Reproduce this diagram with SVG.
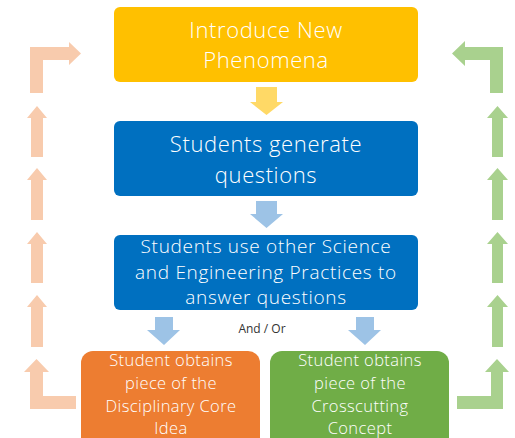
<svg xmlns="http://www.w3.org/2000/svg" width="515" height="438" viewBox="0 0 515 438">
<style>
.t{font-family:"Open Sans","DejaVu Sans",sans-serif;fill:#ffffff;text-anchor:middle;font-weight:300}
.big{font-size:22px;letter-spacing:0.6px}
.mid{font-size:19px;letter-spacing:0.7px}
.sm{font-size:16.5px;letter-spacing:0.4px}
.lab{font-family:"Open Sans","DejaVu Sans",sans-serif;font-size:12px;fill:#333333;text-anchor:middle}
.lo{fill:#F8CBAD}
.lg{fill:#A9D18E}
.ly{fill:#FFD966}
.lb{fill:#9DC3E6}
</style>
<rect width="515" height="438" fill="#ffffff"/>
<g id="connectors">
<polygon class="ly" points="256,87 277,87 277,102 283,102 266.5,115 250,102 256,102"/>
<polygon class="lb" points="256,201 277,201 277,214 283,214 266.5,228 250,214 256,214"/>
<polygon class="lb" points="155,317 173,317 173,330 180,330 164,345 147,330 155,330"/>
<polygon class="lb" points="356,317 374,317 374,330 381,330 365,345 348,330 356,330"/>
<g id="left-loop">
<polygon class="lo" points="30,93 30,47 69,47 69,42 81,53.5 69,65 69,60 43,60 43,93"/>
<polygon class="lo" points="37,106 47,118 43,118 43,157 31,157 31,118 27,118"/>
<polygon class="lo" points="37,168 47,180 43,180 43,220 31,220 31,180 27,180"/>
<polygon class="lo" points="37,232 47,244 43,244 43,283 31,283 31,244 27,244"/>
<polygon class="lo" points="37,295 47,307 43,307 43,347 31,347 31,307 27,307"/>
<polygon class="lo" points="36.5,359 49,372 43,372 43,396 76,396 76,409 30,409 30,372 24,372"/>
</g>
<g id="right-loop">
<polygon class="lg" points="503,93 503,47 465,47 465,41 452,53.5 465,66 465,60 490,60 490,93"/>
<polygon class="lg" points="497.5,106 508,118 503,118 503,157 492,157 492,118 487,118"/>
<polygon class="lg" points="497.5,168 508,180 503,180 503,220 492,220 492,180 487,180"/>
<polygon class="lg" points="497.5,232 508,244 503,244 503,283 492,283 492,244 487,244"/>
<polygon class="lg" points="497.5,295 508,307 503,307 503,347 492,347 492,307 487,307"/>
<polygon class="lg" points="497,359 509,372 503,372 503,409 457,409 457,396 491,396 491,372 485,372"/>
</g>
<text class="lab" x="262" y="333">And / Or</text>
</g>
<g id="introduce">
<rect x="114" y="7" width="304" height="75" rx="6" fill="#FFC000"/>
<text class="t big" x="266" y="38">Introduce New</text>
<text class="t big" x="266" y="68">Phenomena</text>
</g>
<g id="generate">
<rect x="114" y="121" width="304" height="75" rx="6" fill="#0070C0"/>
<text class="t big" x="266" y="152">Students generate</text>
<text class="t big" x="266" y="183">questions</text>
</g>
<g id="practices">
<rect x="114" y="235" width="304" height="75" rx="6" fill="#0070C0"/>
<text class="t mid" x="266" y="253">Students use other Science</text>
<text class="t mid" x="266" y="279">and Engineering Practices to</text>
<text class="t mid" x="266" y="304">answer questions</text>
</g>
<g id="dci">
<rect x="81" y="351" width="179" height="100" rx="12" fill="#ED7D31"/>
<text class="t sm" x="171" y="366">Student obtains</text>
<text class="t sm" x="171" y="389">piece of the</text>
<text class="t sm" x="171" y="412">Disciplinary Core</text>
<text class="t sm" x="171" y="434">Idea</text>
</g>
<g id="ccc">
<rect x="270" y="351" width="179" height="100" rx="12" fill="#70AD47"/>
<text class="t sm" x="360" y="366">Student obtains</text>
<text class="t sm" x="360" y="389">piece of the</text>
<text class="t sm" x="360" y="412">Crosscutting</text>
<text class="t sm" x="360" y="434">Concept</text>
</g>
</svg>
